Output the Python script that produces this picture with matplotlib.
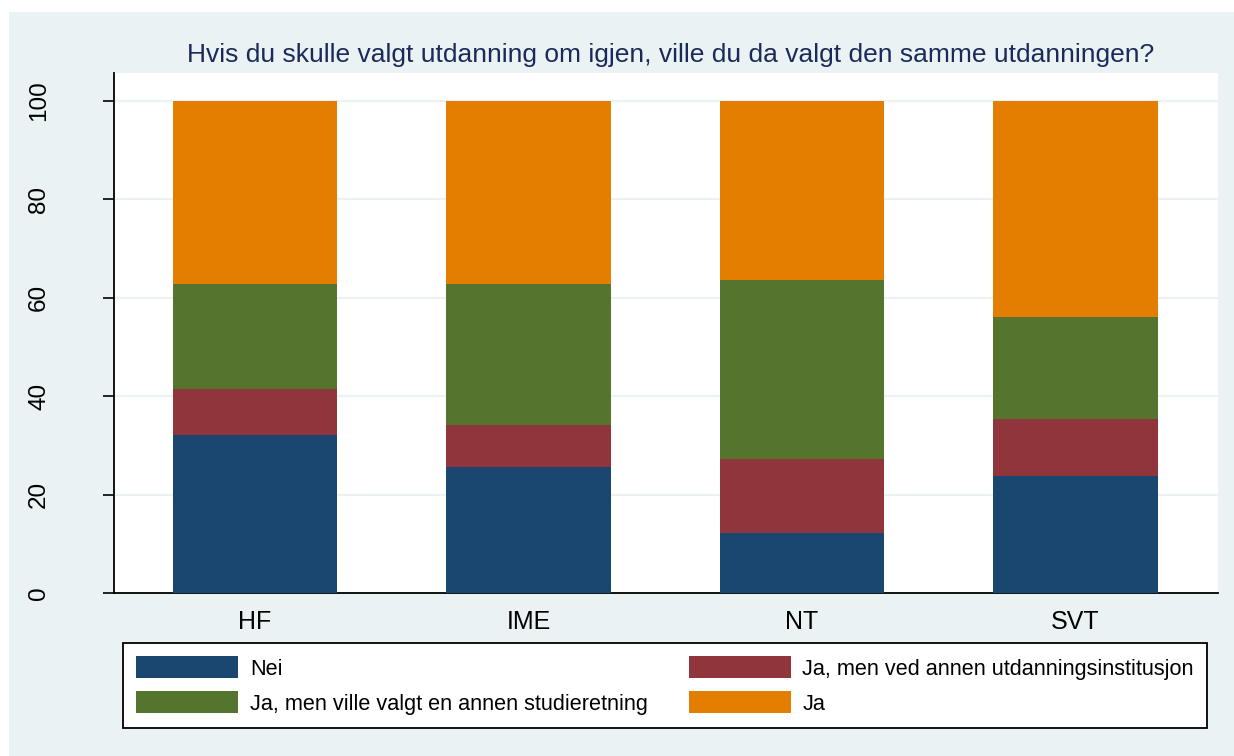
import matplotlib
matplotlib.use('Agg')
import matplotlib.pyplot as plt
from matplotlib.patches import Rectangle
import numpy as np

plt.rcParams['font.family'] = ['Liberation Sans', 'DejaVu Sans']

# data, percent per faculty
faculties = ['HF', 'IME', 'NT', 'SVT']
nei = [32.1, 25.6, 12.1, 23.8]
ja_annen_inst = [9.3, 8.6, 15.1, 11.6]
ja_annen_retning = [21.4, 28.7, 36.4, 20.7]
ja = [37.2, 37.1, 36.4, 43.9]

labels = ['Nei', 'Ja, men ved annen utdanningsinstitusjon',
          'Ja, men ville valgt en annen studieretning', 'Ja']
colors = ['#1A476F', '#90353B', '#55752F', '#E37E00']
title = 'Hvis du skulle valgt utdanning om igjen, ville du da valgt den samme utdanningen?'

W, H = 1234, 756
bg = '#EAF2F3'
fig = plt.figure(figsize=(W / 100, H / 100), dpi=100, facecolor='white')
fig.patches.append(Rectangle((9 / W, 0), 1, (H - 12) / H, transform=fig.transFigure,
                             facecolor=bg, edgecolor='none', zorder=-10))

ax = fig.add_axes([114 / W, (H - 593) / H, (1218 - 114) / W, (593 - 73) / H])
ax.set_facecolor('white')

x = np.arange(len(faculties))
series = [nei, ja_annen_inst, ja_annen_retning, ja]
bottom = np.zeros(len(faculties))
handles = []
for vals, lab, col in zip(series, labels, colors):
    b = ax.bar(x, vals, width=0.6, bottom=bottom, color=col, label=lab,
               edgecolor='none', zorder=3)
    handles.append(b)
    bottom += np.array(vals)

ax.set_xlim(-0.5155, 3.521)
ax.set_ylim(0, 105.7)
ax.set_yticks([0, 20, 40, 60, 80, 100])
ax.set_yticklabels(['0', '20', '40', '60', '80', '100'], rotation=90, va='center')
ax.grid(axis='y', color=bg, linewidth=1.6, zorder=0)
ax.set_xticks(x)
ax.set_xticklabels(faculties)
ax.tick_params(axis='x', length=0, labelsize=18, pad=12)
ax.tick_params(axis='y', length=8, width=1.2, labelsize=17.5, pad=38)

for s in ['top', 'right']:
    ax.spines[s].set_visible(False)
for s in ['left', 'bottom']:
    ax.spines[s].set_linewidth(1.3)
    ax.spines[s].set_color('black')

fig.text(671 / W, (H - 55) / H, title, ha='center', va='center',
         fontsize=19, color='#1C2A5A')

# legend fills column by column, so reorder to get the row layout
order = [0, 2, 1, 3]
leg = fig.legend([handles[i] for i in order], [labels[i] for i in order], ncol=2,
                 loc='center',
                 bbox_to_anchor=(123 / W, (H - 730) / H, (1207 - 123) / W, 89 / H),
                 mode='expand', fontsize=15.6, handlelength=4.7, handleheight=1.15,
                 handletextpad=0.55, labelspacing=0.55, borderpad=0.6,
                 fancybox=False, frameon=True, framealpha=1, borderaxespad=0)
leg.get_frame().set_edgecolor('black')
leg.get_frame().set_linewidth(1.3)
leg.get_frame().set_facecolor('white')

fig.savefig('out.png', dpi=100, facecolor=fig.get_facecolor())
